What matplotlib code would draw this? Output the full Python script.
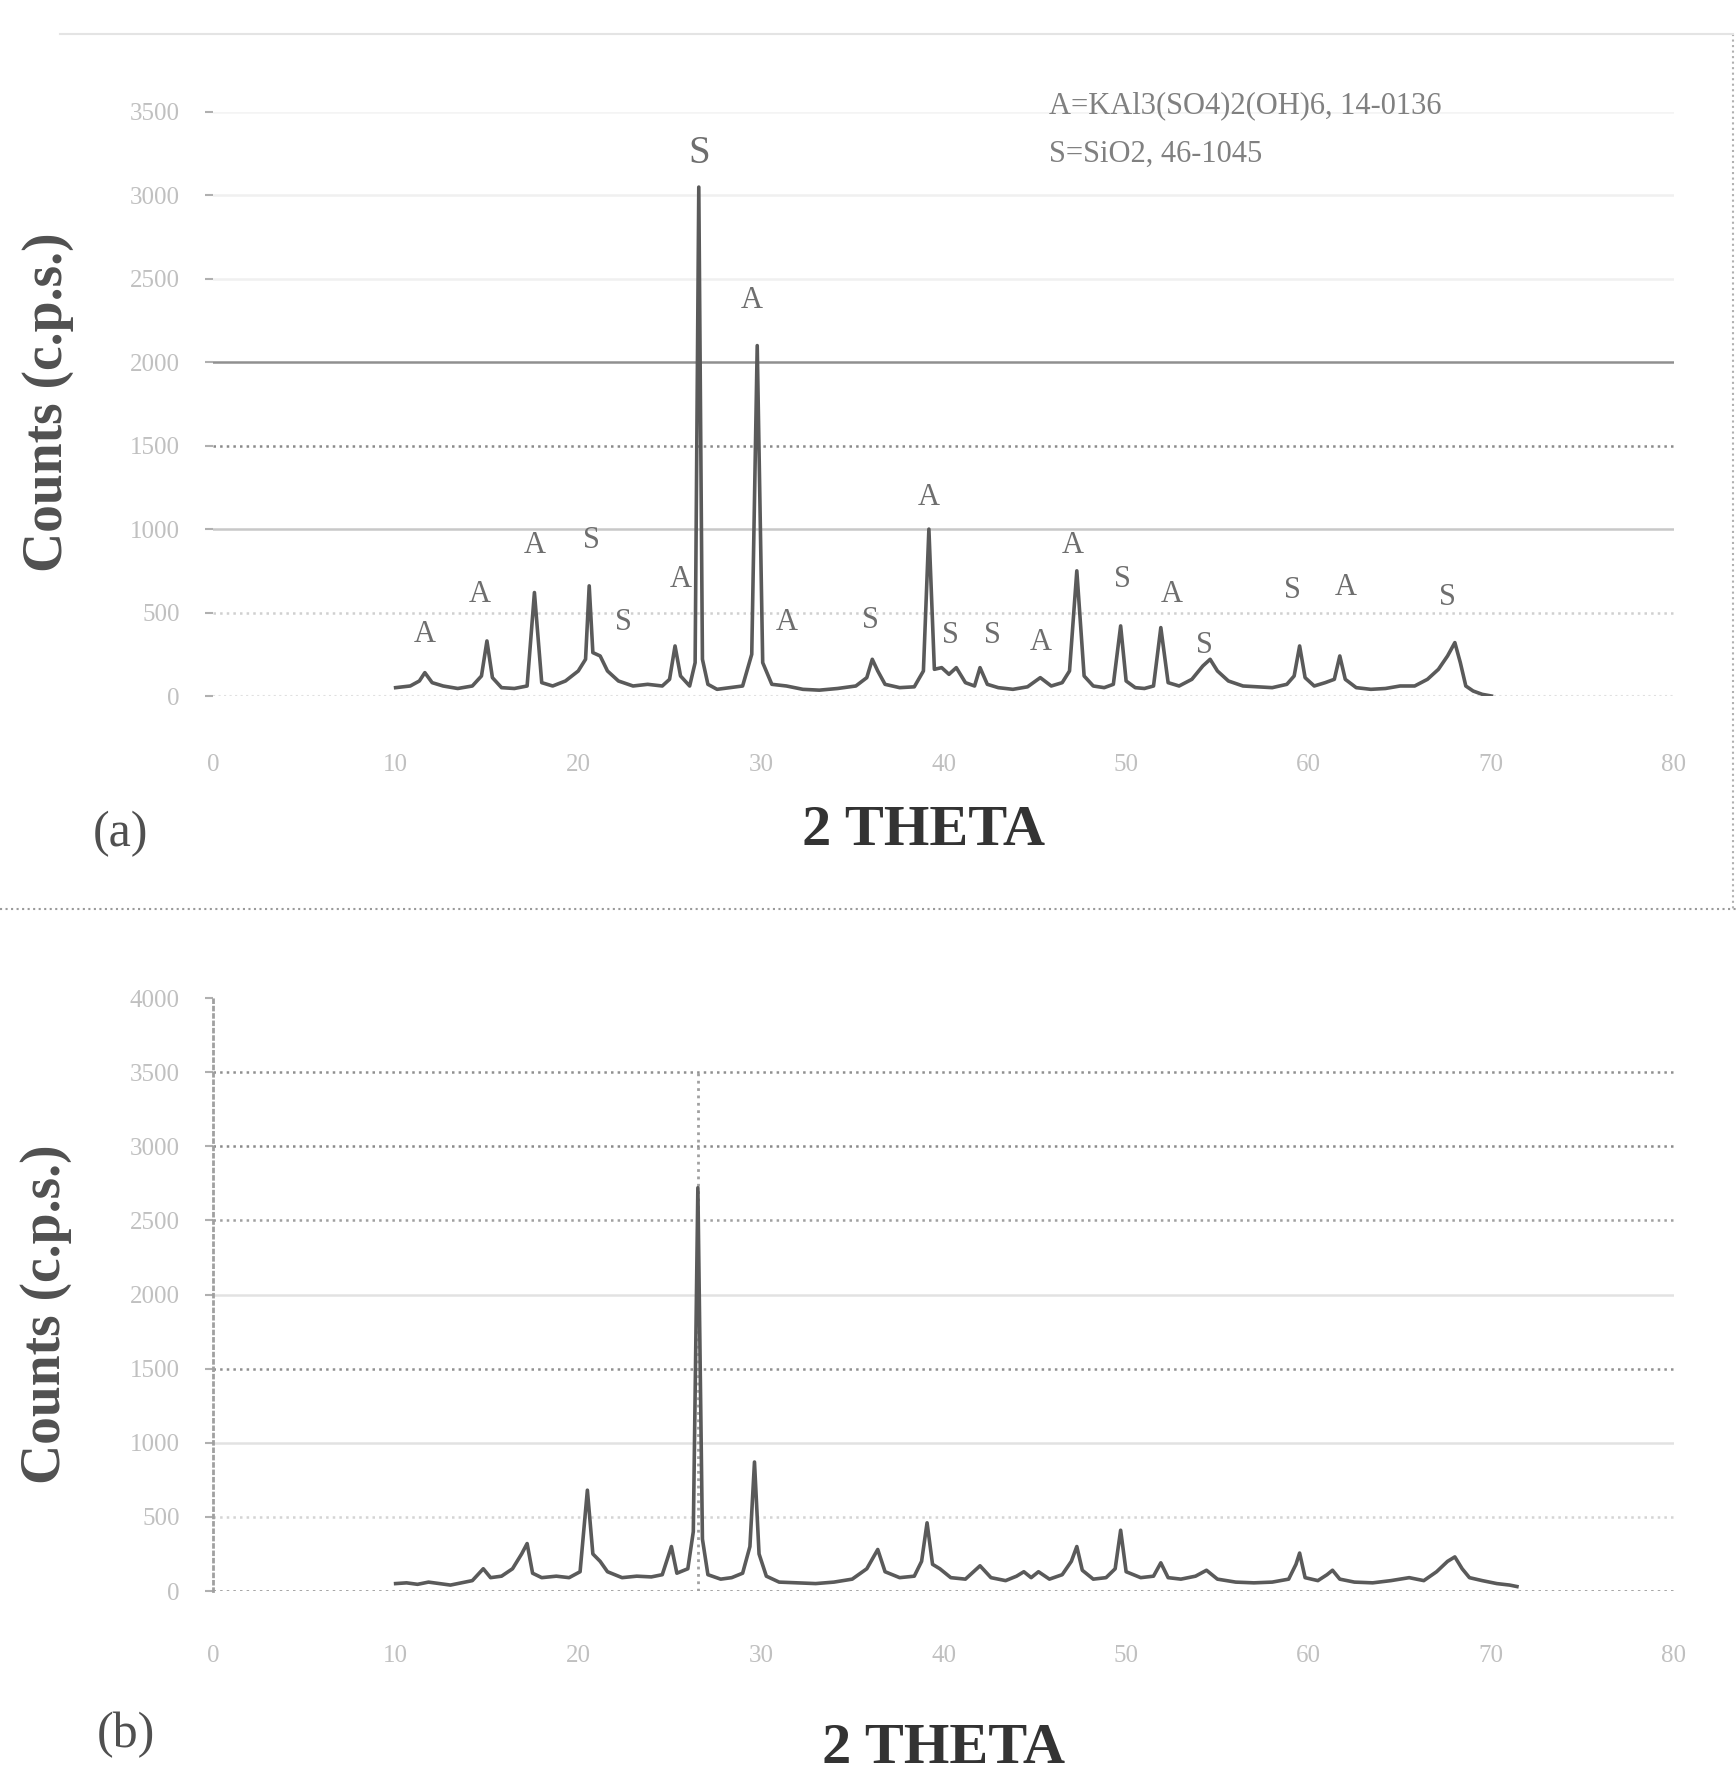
import numpy as np
import matplotlib.pyplot as plt
from matplotlib.lines import Line2D

# XRD pattern (a): 2theta / counts
tt_a = [10, 10.8, 11.3, 11.6, 12.0, 12.6, 13.4, 14.2, 14.7, 15.0, 15.3, 15.8, 16.5, 17.2, 17.6, 18.0,
        18.6, 19.3, 20.0, 20.4, 20.6, 20.8, 21.2, 21.6, 22.2, 23.0, 23.8, 24.6, 25.0, 25.3, 25.6, 26.1,
        26.4, 26.6, 26.8, 27.1, 27.6, 28.3, 29.0, 29.5, 29.8, 30.1, 30.6, 31.4, 32.3, 33.2, 34.2, 35.2,
        35.8, 36.1, 36.4, 36.8, 37.6, 38.4, 38.9, 39.2, 39.5, 39.9, 40.3, 40.7, 41.2, 41.7, 42.0, 42.4,
        43.0, 43.8, 44.6, 45.3, 45.9, 46.5, 46.9, 47.3, 47.7, 48.2, 48.8, 49.3, 49.7, 50.0, 50.5, 51.0,
        51.5, 51.9, 52.3, 52.9, 53.6, 54.2, 54.6, 55.0, 55.6, 56.4, 57.2, 58.0, 58.8, 59.2, 59.5, 59.8,
        60.3, 60.9, 61.4, 61.7, 62.0, 62.6, 63.4, 64.2, 65.0, 65.8, 66.5, 67.1, 67.6, 68.0, 68.3, 68.6,
        69.0, 69.5, 70.0]
cps_a = [50, 60, 90, 140, 80, 60, 45, 60, 120, 330, 110, 50, 45, 60, 620, 80,
         60, 90, 150, 220, 660, 260, 240, 150, 90, 60, 70, 60, 100, 300, 120, 60,
         200, 3050, 220, 70, 40, 50, 60, 250, 2100, 200, 70, 60, 40, 35, 45, 60,
         110, 220, 150, 70, 50, 55, 150, 1000, 160, 170, 130, 170, 80, 60, 170, 70,
         50, 40, 55, 110, 60, 80, 150, 750, 120, 60, 50, 70, 420, 90, 50, 45,
         60, 410, 80, 60, 100, 180, 220, 150, 90, 60, 55, 50, 70, 120, 300, 110,
         60, 80, 100, 240, 100, 50, 40, 45, 60, 60, 100, 160, 240, 320, 200, 60,
         30, 10, 0]

# XRD pattern (b)
tt_b = [10, 10.6, 11.2, 11.8, 12.4, 13.0, 13.6, 14.2, 14.8, 15.2, 15.8, 16.4, 16.9, 17.2, 17.5, 18.0,
        18.8, 19.5, 20.1, 20.5, 20.8, 21.2, 21.6, 22.4, 23.2, 24.0, 24.6, 25.1, 25.4, 26.0, 26.3, 26.55,
        26.8, 27.1, 27.8, 28.4, 29.0, 29.4, 29.65, 29.9, 30.3, 31.0, 32.0, 33.0, 34.0, 35.0, 35.8, 36.4,
        36.8, 37.6, 38.4, 38.8, 39.1, 39.4, 39.8, 40.4, 41.2, 42.0, 42.6, 43.4, 44.0, 44.4, 44.8, 45.2,
        45.8, 46.5, 47.0, 47.3, 47.6, 48.2, 48.9, 49.4, 49.7, 50.0, 50.8, 51.5, 51.9, 52.3, 53.0, 53.8,
        54.4, 55.0, 56.0, 57.0, 58.0, 58.9, 59.3, 59.5, 59.8, 60.5, 61.0, 61.3, 61.7, 62.5, 63.5, 64.5,
        65.5, 66.3, 67.0, 67.6, 68.0, 68.4, 68.8, 69.5, 70.3, 71.0, 71.4]
cps_b = [50, 55, 45, 60, 50, 40, 55, 70, 150, 90, 100, 150, 250, 320, 120, 90,
         100, 90, 130, 680, 250, 200, 130, 90, 100, 95, 110, 300, 120, 150, 400, 2720,
         350, 110, 80, 90, 120, 300, 870, 250, 100, 60, 55, 50, 60, 80, 150, 280,
         130, 90, 100, 200, 460, 180, 150, 90, 80, 170, 90, 70, 100, 130, 90, 130,
         80, 110, 200, 300, 140, 80, 90, 150, 410, 130, 90, 100, 190, 90, 80, 100,
         140, 80, 60, 55, 60, 80, 180, 256, 90, 70, 110, 140, 80, 60, 55, 70,
         90, 70, 130, 200, 230, 150, 90, 70, 50, 40, 30]

# phase labels on pattern (a)
lab_txt = ['S', 'A', 'A', 'A', 'A', 'S', 'S', 'A', 'A', 'S', 'A', 'S', 'S', 'A', 'A', 'S',
           'A', 'S', 'S', 'A', 'S']
lab_x = [26.6, 29.5, 11.6, 14.6, 17.6, 20.7, 22.5, 25.6, 31.4, 36.0, 39.2, 40.4, 42.7, 45.3, 47.1, 49.8,
         52.5, 54.3, 59.1, 62.0, 67.6]
lab_y = [3250, 2370, 370, 610, 900, 930, 440, 700, 440, 450, 1190, 360, 360, 320, 900, 700,
         610, 300, 630, 650, 590]

W, H = 1736, 1792
fig = plt.figure(figsize=(W/100, H/100), dpi=100)
plt.rcParams['font.family'] = ['Liberation Serif', 'DejaVu Serif']

def fx(px):
    return px / W

def fy(py):
    return 1 - py / H

line_col = '#5a5a5a'
tick_col = '#c0c0c0'

# ---- panel (a) ----
ax1 = fig.add_axes([fx(213), fy(696), fx(1674) - fx(213), fy(112) - fy(696)])
ax1.set_xlim(0, 80)
ax1.set_ylim(0, 3500)
grid_a = {500: ('#d0d0d0', ':'), 1000: ('#c8c8c8', '-'), 1500: ('#8a8a8a', ':'),
          2000: ('#909090', '-'), 2500: ('#f0f0f0', '-'), 3000: ('#f0f0f0', '-'), 3500: ('#f4f4f4', '-')}
for yv, (c, ls) in grid_a.items():
    ax1.axhline(yv, color=c, ls=ls, lw=1.8, zorder=0)
ax1.axhline(0, color='#e0e0e0', ls=':', lw=1.5, zorder=0)
ax1.plot(tt_a, cps_a, color=line_col, lw=2.6, solid_joinstyle='round')
for t, x, y in zip(lab_txt, lab_x, lab_y):
    fs = 28 if y > 3000 else 22
    ax1.text(x, y, t, ha='center', va='center', fontsize=fs, color='#6e6e6e')
ax1.text(1049/W, fy(106), 'A=KAl3(SO4)2(OH)6, 14-0136', transform=fig.transFigure,
         fontsize=22, color='#808080', va='center', ha='left')
ax1.text(1049/W, fy(154), 'S=SiO2, 46-1045', transform=fig.transFigure,
         fontsize=22, color='#808080', va='center', ha='left')

# ---- panel (b) ----
ax2 = fig.add_axes([fx(213), fy(1591), fx(1674) - fx(213), fy(998) - fy(1591)])
ax2.set_xlim(0, 80)
ax2.set_ylim(0, 4000)
grid_b = {500: ('#d4d4d4', ':'), 1000: ('#e2e2e2', '-'), 1500: ('#909090', ':'), 2000: ('#e2e2e2', '-'),
          2500: ('#a0a0a0', ':'), 3000: ('#8a8a8a', ':'), 3500: ('#909090', ':')}
for yv, (c, ls) in grid_b.items():
    ax2.axhline(yv, color=c, ls=ls, lw=1.8, zorder=0)
ax2.axhline(0, color='#8a8a8a', ls=':', lw=1.8, zorder=0)
ax2.plot([26.55, 26.55], [0, 3500], color='#a0a0a0', ls=':', lw=2, zorder=1)
ax2.plot(tt_b, cps_b, color=line_col, lw=2.6, solid_joinstyle='round')

for ax, xpad in ((ax1, 42), (ax2, 39)):
    for s in ax.spines.values():
        s.set_visible(False)
    ax.set_xticks(np.arange(0, 81, 10))
    ax.tick_params(axis='x', length=0, pad=xpad, labelsize=18, labelcolor=tick_col)
    ax.tick_params(axis='y', length=6, width=1.5, color='#b0b0b0', pad=18, labelsize=18,
                   labelcolor=tick_col)
ax1.set_yticks(np.arange(0, 3501, 500))
ax2.set_yticks(np.arange(0, 4001, 500))
ax2.spines['left'].set_visible(True)
ax2.spines['left'].set_color('#a0a0a0')
ax2.spines['left'].set_linestyle(':')
ax2.spines['left'].set_linewidth(2)

# axis titles and panel tags
fig.text(fx(48), fy(402), 'Counts (c.p.s.)', rotation=90, ha='center', va='center',
         fontsize=40, fontweight='bold', color='#505050')
fig.text(fx(46), fy(1314), 'Counts (c.p.s.)', rotation=90, ha='center', va='center',
         fontsize=40, fontweight='bold', color='#505050')
fig.text(fx(923), fy(831), '2 THETA', ha='center', va='center', fontsize=42,
         fontweight='bold', color='#333333')
fig.text(fx(944), fy(1749), '2 THETA', ha='center', va='center', fontsize=42,
         fontweight='bold', color='#333333')
fig.text(fx(120), fy(834), '(a)', ha='center', va='center', fontsize=36, color='#505050')
fig.text(fx(126), fy(1735), '(b)', ha='center', va='center', fontsize=36, color='#505050')

# dotted frame around panel (a)
fig.add_artist(Line2D([0, 1], [fy(909), fy(909)], transform=fig.transFigure,
                      color='#9a9a9a', ls=':', lw=1.5))
fig.add_artist(Line2D([fx(1733), fx(1733)], [fy(34), fy(909)], transform=fig.transFigure,
                      color='#b0b0b0', ls=':', lw=1.5))
fig.add_artist(Line2D([fx(60), fx(1733)], [fy(34), fy(34)], transform=fig.transFigure,
                      color='#e4e4e4', ls='-', lw=1.5))

fig.savefig('out.png', dpi=100)
